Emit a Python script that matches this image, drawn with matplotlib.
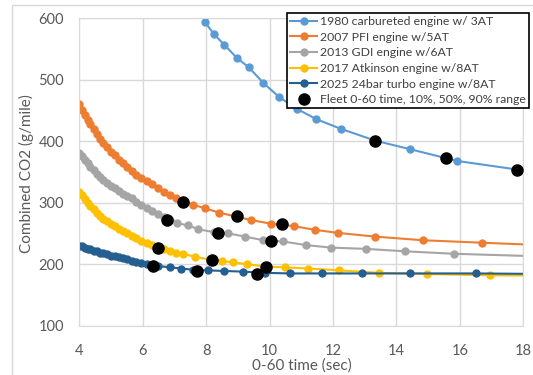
import matplotlib
matplotlib.use('Agg')
import matplotlib.pyplot as plt
from matplotlib.patches import Rectangle

plt.rcParams['font.family'] = ['Lato', 'DejaVu Sans']

# 0-60 time (sec) and combined CO2 (g/mile) for each engine
t_1980 = [7.96, 8.25, 8.57, 8.96, 9.35, 9.80, 10.30, 10.85, 11.47, 12.26, 13.33, 14.44, 15.91, 17.81]
co2_1980 = [594, 574, 557, 536, 520, 495, 472, 453, 436, 420, 401, 387, 368, 354]

t_2007 = [4.00, 4.08, 4.17, 4.26, 4.35, 4.45, 4.55, 4.65, 4.76, 4.87, 4.99, 5.11, 5.24, 5.37, 5.51, 5.65,
          5.80, 5.96, 6.12, 6.29, 6.47, 6.66, 6.86, 7.06, 7.28, 7.57, 7.96, 8.40, 8.90, 9.40, 10.03, 10.76,
          11.42, 12.15, 13.31, 14.83, 16.69, 19.10]
co2_2007 = [460, 451, 442, 435, 428, 420, 412, 404, 397, 390, 383, 377, 370, 364, 358, 352,
            345, 340, 335, 330, 324, 318, 313, 307, 302, 297, 291, 284, 278, 272, 266, 262,
            256, 251, 245, 239, 235, 230]

t_2013 = [4.00, 4.08, 4.17, 4.26, 4.35, 4.45, 4.55, 4.65, 4.76, 4.87, 4.99, 5.11, 5.24, 5.37, 5.51, 5.65,
          5.80, 5.96, 6.12, 6.29, 6.47, 6.66, 6.86, 7.07, 7.44, 7.75, 8.25, 8.70, 9.22, 9.80, 10.42, 11.16,
          11.95, 13.03, 14.27, 15.80, 18.40]
co2_2013 = [381, 376, 370, 364, 358, 353, 347, 342, 337, 332, 328, 324, 319, 315, 311, 307,
            302, 297, 292, 287, 282, 277, 272, 267, 263, 257, 252, 250, 245, 239, 237, 231,
            227, 225, 221, 217, 213]

t_2017 = [4.00, 4.08, 4.17, 4.26, 4.35, 4.45, 4.55, 4.65, 4.76, 4.87, 4.99, 5.11, 5.24, 5.37, 5.51, 5.65,
          5.80, 5.96, 6.12, 6.29, 6.47, 6.66, 6.86, 7.06, 7.28, 7.65, 8.17, 8.49, 8.85, 9.30, 9.90, 10.48,
          11.21, 12.20, 13.44, 14.96, 16.96, 19.30]
co2_2017 = [318, 312, 306, 300, 295, 290, 284, 279, 274, 270, 266, 262, 258, 254, 250, 246,
            242, 238, 235, 231, 228, 225, 222, 219, 217, 212, 207, 205, 203, 200, 196, 195,
            193, 190, 186, 184, 182, 181]

t_2025 = [4.00, 4.08, 4.17, 4.26, 4.35, 4.45, 4.55, 4.65, 4.76, 4.87, 4.99, 5.11, 5.24, 5.37, 5.51, 5.65,
          5.80, 5.96, 6.12, 6.29, 6.47, 6.86, 7.21, 7.60, 8.07, 8.56, 9.15, 9.85, 10.64, 11.65, 12.90, 14.44,
          16.50, 19.00]
co2_2025 = [230, 229, 227, 225, 224, 222, 221, 219, 218, 216, 214, 213, 211, 210, 208, 206,
            204, 202, 200, 198, 197, 195, 193, 191, 190, 189, 188, 186, 185, 185, 185, 185,
            185, 184]

# fleet 10%, 50%, 90% points on each curve
fleet_t = [13.33, 15.56, 17.81, 7.26, 8.96, 10.40, 6.76, 8.38, 10.06, 6.49, 8.17, 9.90, 6.33, 7.72, 9.59]
fleet_co2 = [401, 372, 354, 302, 278, 265, 272, 251, 238, 227, 207, 196, 197, 189, 184]

labels = ['1980 carbureted engine w/ 3AT', '2007 PFI engine w/5AT', '2013 GDI engine w/6AT',
          '2017 Atkinson engine w/8AT', '2025 24bar turbo engine w/8AT']
colors = ['#5B9BD5', '#ED7D31', '#A5A5A5', '#FFC000', '#255E91']

fig = plt.figure(figsize=(5.33, 3.75), dpi=100)
ax = fig.add_axes([79.3 / 533, 1 - 325.7 / 375, 444 / 533, 307.4 / 375])

series = [(t_1980, co2_1980), (t_2007, co2_2007), (t_2013, co2_2013), (t_2017, co2_2017), (t_2025, co2_2025)]
for (t, c), lab, col in zip(series, labels, colors):
    ax.plot(t, c, color=col, lw=1.5, marker='o', ms=5, label=lab)
ax.plot(fleet_t, fleet_co2, ls='none', marker='o', ms=8, color='black', zorder=5,
        label='Fleet 0-60 time, 10%, 50%, 90% range')

ax.set_xlim(4, 18)
ax.set_ylim(100, 600)
ax.set_xticks(range(4, 19, 2))
ax.set_yticks(range(100, 601, 100))
ax.grid(True, color='#D9D9D9', lw=1)
ax.set_axisbelow(True)
for s in ax.spines.values():
    s.set_color('#D9D9D9')
ax.tick_params(length=0, labelsize=10.5, labelcolor='#595959')
ax.tick_params(axis='y', pad=11)
ax.tick_params(axis='x', pad=13)

fig.text(302 / 533, 1 - 366 / 375, '0-60 time (sec)', ha='center', va='center', fontsize=11, color='#595959')
fig.text(26 / 533, 1 - 174 / 375, 'Combined CO2 (g/mile)', ha='center', va='center', rotation=90,
         fontsize=11, color='#595959')

# chart area border
fig.add_artist(Rectangle((12 / 533, -0.01), 1.0, 1 - 5.3 / 375 + 0.01, transform=fig.transFigure,
                         fill=False, edgecolor='#D9D9D9', lw=1))

leg = fig.legend(loc='upper right', bbox_to_anchor=(529 / 533, 1 - 13 / 375), bbox_transform=fig.transFigure,
                 borderaxespad=0, fontsize=8.8, handlelength=2.2, handletextpad=0.25, labelspacing=0.38,
                 borderpad=0.25, fancybox=False, framealpha=1)
leg.get_frame().set_edgecolor('black')
leg.get_frame().set_linewidth(1.2)
for txt in leg.get_texts():
    txt.set_color('#404040')

fig.savefig('out.png', dpi=100)
